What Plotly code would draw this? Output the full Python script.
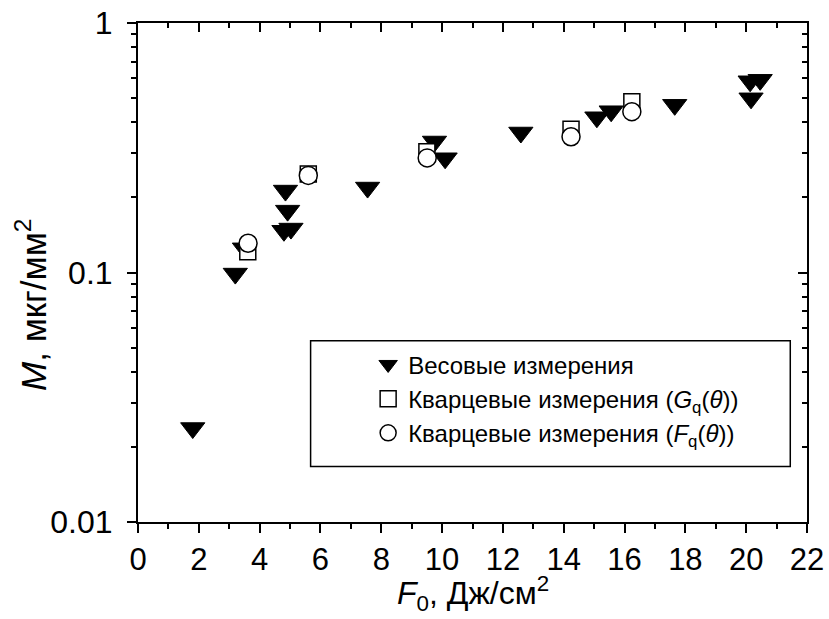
import plotly.graph_objects as go

# Mass per unit area vs. laser fluence
# Weighing measurements (filled down-triangles)
weigh_x = [1.80, 3.20, 3.50, 4.85, 4.92, 4.80, 5.03, 7.55, 9.75, 10.10,
           12.59, 15.09, 15.56, 17.65, 20.16, 20.13, 20.46]
weigh_y = [0.0238, 0.099, 0.125, 0.213, 0.177, 0.147, 0.150, 0.219, 0.335, 0.287,
           0.364, 0.419, 0.443, 0.470, 0.499, 0.584, 0.592]

# Quartz microbalance, G_q(theta) correction (open squares)
gq_x = [3.61, 5.60, 9.50, 14.24, 16.24]
gq_y = [0.121, 0.248, 0.305, 0.375, 0.484]

# Quartz microbalance, F_q(theta) correction (open circles)
fq_x = [3.62, 5.60, 9.51, 14.24, 16.24]
fq_y = [0.131, 0.245, 0.288, 0.350, 0.441]

x_major = [0, 2, 4, 6, 8, 10, 12, 14, 16, 18, 20, 22]
x_major_text = ["0", "2", "4", "6", "8", "10", "12", "14", "16", "18", "20", "22"]
x_minor = [1, 3, 5, 7, 9, 11, 13, 15, 17, 19, 21]
y_major = [0.01, 0.1, 1]
y_major_text = ["0.01", "0.1", "1"]
y_minor = [0.02, 0.03, 0.04, 0.05, 0.06, 0.07, 0.08, 0.09,
           0.2, 0.3, 0.4, 0.5, 0.6, 0.7, 0.8, 0.9]

FONT = "Liberation Sans, Arial, sans-serif"

fig = go.Figure()
fig.add_trace(go.Scatter(
    x=weigh_x, y=weigh_y, mode="markers", name="Весовые измерения",
    marker=dict(symbol="triangle-down", size=21, color="black",
                line=dict(color="black", width=1)),
))
fig.add_trace(go.Scatter(
    x=gq_x, y=gq_y, mode="markers",
    name="Кварцевые измерения (<i>G</i><sub>q</sub>(<i>θ</i>))",
    marker=dict(symbol="square", size=16, color="white",
                line=dict(color="black", width=1.5)),
))
fig.add_trace(go.Scatter(
    x=fq_x, y=fq_y, mode="markers",
    name="Кварцевые измерения (<i>F</i><sub>q</sub>(<i>θ</i>))",
    marker=dict(symbol="circle", size=18, color="white",
                line=dict(color="black", width=1.5)),
))
# empty trace anchoring the mirrored top/right axes
fig.add_trace(go.Scatter(x=[], y=[], xaxis="x2", yaxis="y2",
                         showlegend=False, hoverinfo="skip"))

axis_common = dict(showline=True, linecolor="black", linewidth=2,
                   showgrid=False, zeroline=False, tickcolor="black",
                   tickwidth=2, automargin=False)

fig.update_layout(
    width=829, height=619,
    margin=dict(l=138, r=22, t=23, b=97),
    paper_bgcolor="white", plot_bgcolor="white",
    font=dict(family=FONT, color="black"),
    xaxis=dict(**axis_common, range=[0, 22], ticks="outside", ticklen=9,
               tickmode="array", tickvals=x_major, ticktext=x_major_text,
               tickfont=dict(size=31),
               minor=dict(tickmode="array", tickvals=x_minor, ticks="outside",
                          ticklen=5, tickwidth=2, tickcolor="black")),
    yaxis=dict(**axis_common, type="log", range=[-2, 0], ticks="outside",
               ticklen=9, tickmode="array", tickvals=y_major,
               ticktext=y_major_text, tickfont=dict(size=32),
               ticklabelstandoff=8,
               minor=dict(tickmode="array", tickvals=y_minor, ticks="outside",
                          ticklen=5, tickwidth=2, tickcolor="black")),
    xaxis2=dict(**axis_common, overlaying="x", side="top", range=[0, 22],
                ticks="inside", ticklen=9, tickmode="array", tickvals=x_major,
                showticklabels=False,
                minor=dict(tickmode="array", tickvals=x_minor, ticks="inside",
                           ticklen=5, tickwidth=2, tickcolor="black")),
    yaxis2=dict(**axis_common, overlaying="y", side="right", type="log",
                range=[-2, 0], ticks="inside", ticklen=9, tickmode="array",
                tickvals=y_major, showticklabels=False,
                minor=dict(tickmode="array", tickvals=y_minor, ticks="inside",
                           ticklen=5, tickwidth=2, tickcolor="black")),
    legend=dict(x=0.344, y=0.36, xanchor="left", yanchor="top",
                bgcolor="rgba(0,0,0,0)", borderwidth=0,
                font=dict(family=FONT, size=24), itemsizing="trace",
                tracegroupgap=0),
    shapes=[dict(type="rect", xref="paper", yref="paper",
                 x0=0.258, x1=0.975, y0=0.111, y1=0.363,
                 line=dict(color="black", width=1.5),
                 fillcolor="rgba(0,0,0,0)", layer="above")],
    annotations=[
        dict(text="<i>F</i><sub>0</sub>, Дж/см<sup>2</sup>",
             xref="paper", yref="paper", x=0.5, y=-0.095,
             xanchor="center", yanchor="top", showarrow=False,
             font=dict(family=FONT, size=32)),
        dict(text="<i>M</i>, мкг/мм<sup>2</sup>",
             xref="paper", yref="paper", x=-0.16, y=0.435,
             xanchor="center", yanchor="middle", showarrow=False,
             textangle=-90, font=dict(family=FONT, size=35)),
    ],
)

fig.write_html("out.html")
